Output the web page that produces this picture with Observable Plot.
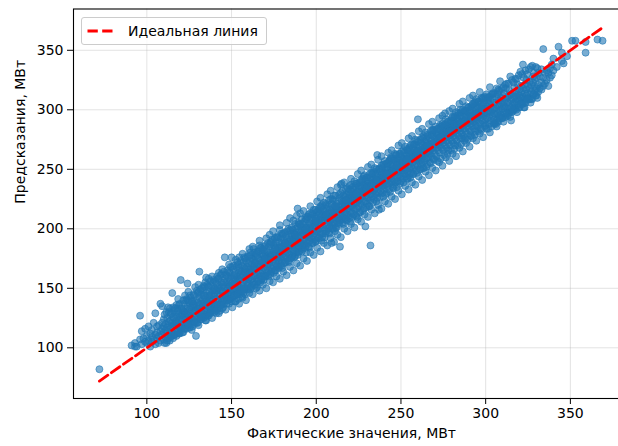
<!DOCTYPE html>
<html><head><meta charset="utf-8">
<script src="https://cdn.jsdelivr.net/npm/d3@7"></script>
<script src="https://cdn.jsdelivr.net/npm/@observablehq/plot@0.6"></script>
<style>
html,body{margin:0;padding:0;overflow:hidden;background:#fff;}
#wrap{position:relative;width:618px;height:446px;overflow:hidden;font-family:"DejaVu Sans",sans-serif;color:#000;}
#wrap svg{display:block;max-width:none !important;}
#legend{position:absolute;left:80.5px;top:16.5px;width:186px;height:28px;box-sizing:border-box;border:1px solid #cccccc;border-radius:3px;background:rgba(255,255,255,0.8);}
#legend svg{position:absolute;left:5px;top:0;}
#legend span{position:absolute;left:46.5px;top:0;line-height:26px;font-size:14px;white-space:nowrap;}
</style></head><body><div id="wrap"></div>
<script>
const xTicks = [100, 150, 200, 250, 300, 350];
const yTicks = [100, 150, 200, 250, 300, 350];
const xLabel = "Фактические значения, МВт";
const yLabel = "Предсказания, МВт";
const legendLabel = "Идеальная линия";
// each row: actual value, then the predicted values observed for it (core of the cloud)
const observations = [
[72,82],[91,102],[93,101,104],[94,101],[96,127,107],[97,114,103],[98,108],[99,116,105],
[100,104,110],[101,106,118],[102,101,112],[103,109,115,105],[104,107,121],[105,129,111,103],
[106,113,108,118],[107,104,119,110],[108,137,114,106],[109,135,111,121,116],[110,107,118,113,124],
[111,120,109,115],[112,125,113,117,106],[113,130,119,110,122],[114,116,123,109,128],[115,146,121,113,118],
[116,111,125,119,131],[117,122,114,128,120],[118,126,115,133,121],[119,123,112,129,118,136],
[120,157,127,116,124],[121,118,131,124,113,128],[122,130,121,137,116],[123,126,119,133,129,140],
[124,154,128,120,135,124],[125,132,117,127,138,123],[126,121,134,129,142,125],[127,135,124,130,118,139],
[128,131,144,126,122,136],[129,110,134,127,140,131],[130,138,125,133,146,121],
[131,164,136,128,142,133],[132,127,139,145,131,124],[133,141,135,129,148,137],[134,138,126,144,133,151],
[135,159,140,123,136,146,131],[136,143,130,138,152,127],[137,134,147,140,129,144],[138,145,136,152,141,131],
[139,140,148,133,155,137],[140,137,146,130,143,150,134],[141,129,148,141,154,136],[142,150,139,145,133,158],
[143,144,137,152,148,131],[144,155,141,148,136,151,162],[145,147,139,153,143,134],[146,176,151,144,158,140],
[147,142,155,148,137,161],[148,153,146,159,140,150,143],[149,148,141,156,163,152],[150,154,145,160,149,139,176],
[151,158,147,153,166,143],[152,144,157,150,162,139,154],[153,160,149,155,145,168],[154,151,163,147,158,141,170],
[155,157,150,165,161,145],[156,164,153,147,169,159,143],[157,151,161,172,155,146],[158,166,158,150,163,175,145],
[159,155,168,160,149,164],[160,171,162,154,167,150,158],
[161,166,157,173,149,163,180],[162,158,170,164,152,175],[163,168,160,155,174,166,183],[164,161,172,167,153,177],
[165,170,162,178,158,168,151],[166,175,164,170,156,181],[167,160,173,168,184,163,155],[168,172,165,179,158,174],
[169,177,168,161,182,172,157],[170,166,179,173,186,160,175],[171,181,170,163,176,168],[172,174,165,185,178,160,171],
[173,168,180,175,162,189,177],[174,183,172,166,178,191],[175,177,169,186,181,163,174],[176,171,184,179,165,188],
[177,186,175,169,182,178,193],[178,173,189,181,167,184,176],[179,184,176,192,170,180],[180,188,179,173,185,195,167],
[181,176,190,183,171,186],[182,185,178,194,188,172,181],[183,191,180,175,187,198],[184,178,193,186,172,189,183],
[185,196,187,181,191,175],[186,183,199,190,177,186,194],[187,191,182,196,176,188],[188,186,200,193,180,191,197],
[189,217,194,183,188,202,178],[190,192,185,198,189,181,204],[191,197,188,184,202,194],[192,190,204,196,183,199,186],
[193,199,191,206,187,195],[194,186,201,197,208,190,180],[195,203,194,188,199,210],[196,197,205,190,201,184,193],
[197,209,199,192,204,196],[198,194,207,201,188,212,198],[199,203,196,210,191,205],[200,206,198,214,201,190,209],
[201,199,211,204,193,215],[202,208,200,195,213,205],[203,196,210,203,218,190,207],[204,212,201,208,196,216],
[205,207,199,214,210,193],[206,203,217,209,198,212,220],[207,213,205,200,219,209],[208,210,202,216,196,213,206],
[209,188,215,208,221,203],[210,212,205,218,200,214,224],[211,219,210,204,215,198],[212,207,221,214,201,217,211],
[213,216,209,223,205,219],[214,185,218,211,226,207,214],[215,238,220,213,208,224,216],[216,210,223,217,204,228],
[217,221,214,227,209,219,224],[218,216,229,222,207,212],[219,225,217,211,231,221,226],[220,219,228,214,223,206,233],
[221,226,219,231,213,224],[222,218,233,226,212,229,221],[223,229,222,236,216,226],[224,225,217,231,238,222,210],
[225,232,224,219,235,228],[226,221,236,229,214,231,225],[227,234,227,240,220,230],[228,229,223,237,232,244,217],
[229,202,235,228,241,223,232],[230,233,226,238,221,236,243],[231,240,232,226,236,219],[232,186,236,229,243,233,224],
[233,238,231,246,227,241],[234,232,242,236,225,239,248],[235,241,234,229,245,237],[236,262,238,231,247,241,226],
[237,216,243,236,240,230,250],[238,245,238,232,248,241],[239,236,251,243,230,246,240],[240,247,239,233,244,254,236],
[241,243,250,237,246,229],[242,249,241,255,236,245,252],[243,238,247,242,257,233],[244,251,244,239,254,247,260],
[245,246,240,252,235,249],[246,253,247,258,241,250,237],[247,244,256,249,239,262],[248,255,248,243,259,251,240],
[249,250,258,245,254,263],[250,256,249,244,261,252,240],
[251,247,259,253,242,256],[252,258,251,264,246,255,249],[253,250,262,256,244,259],[254,261,253,248,266,257,242],
[255,256,263,251,259,245,268],[256,252,265,258,247,261],[257,264,256,250,268,260,246],[258,259,253,266,262,271],
[259,262,255,270,249,264,258],[260,292,266,259,253,262,273],[261,257,269,263,250,266,260],[262,265,258,272,261,254],
[263,270,262,256,267,276,251],[264,261,273,266,257,269],[265,267,259,275,263,252,270],[266,272,265,260,278,268],
[267,263,276,269,256,271,265],[268,274,267,261,279,271],[269,266,278,272,259,269,283],[270,276,269,263,281,273],
[271,268,280,274,261,277,271],[272,279,271,266,284,275],[273,270,283,277,264,273,287],[274,281,274,268,286,277],
[275,272,285,279,266,282,275],[276,297,283,276,270,288,279],[277,274,287,281,268,284],[278,285,278,272,290,281,266],
[279,276,289,283,270,286,279],[280,287,280,274,293,283],[281,278,291,285,272,288,281],[282,289,282,276,295,285,270],
[283,280,293,287,274,283],[284,291,284,278,297,288],[285,282,295,289,276,285,300],[286,293,286,280,290,276],
[287,284,297,291,278,288],[288,295,288,282,299,291,276],[289,286,299,293,280,289],[290,297,290,284,302,293],
[291,288,300,294,282,291,278],[292,298,291,286,304,295],[293,290,302,296,284,293],[294,300,293,287,306,297,282],
[295,292,303,297,286,294],[296,301,295,289,307,298],[297,294,305,299,288,296,284],[298,303,297,291,309,300],
[299,295,306,300,289,297],[300,304,298,292,310,301,287],
[301,297,308,293,303],[302,305,294,299,311,288],[303,298,307,291,302],[304,309,300,295,313],[305,301,292,306,297,288],
[306,288,311,302,296],[307,304,297,313,291],[308,299,308,294,303,316],[309,305,296,310,300],[310,301,312,293,306],
[311,307,298,303,314],[312,296,309,302,318],[313,310,301,306,295],[314,303,312,298,316],[315,291,308,302,313],
[316,305,314,299,309],[317,311,302,319,306],[318,307,315,300,311],[319,313,304,309,321],[320,308,317,302,312],
[321,315,306,320,310],[322,338,311,305,318],[323,302,314,321,309],[324,317,308,325,312],[325,310,320,314],
[326,318,309,324],[327,309,321,315],[328,323,313,328],[329,316,326,320],[330,327,318,312],[331,321,331,315],
[332,318,328],[333,334,323,317],[334,351,327,320],[335,322,331],[336,333,325],[337,331,320],[338,335,327],
[339,329,338],[340,333,343],[342,336],[343,353],[345,341,348],[346,339],[348,345],[351,358],[353,358],
[359,357,348],[366,359],[369,358]
];
// observations between the core and the edges of the cloud
const midObservations = [
[111.5,130,104],[113.5,133,106],[115.5,134,108,126],[117.5,136,110],[119.5,137,112],[121.5,140,113,131],
[123.5,141,116],[125.5,144,117],[127.5,145,120,137],[129.5,148,121],[131.5,149,124],[133.5,152,125,144],
[135.5,153,128],[137.5,156,129],[139.5,157,132,149],[141.5,160,133],[143.5,161,136],[145.5,164,137,155],
[147.5,165,140],[149.5,168,141],[151.5,169,144,161],[153.5,172,145],[155.5,173,148],[157.5,176,149,167],
[159.5,177,152],[161.5,178,151],[163.5,180,153,171],[165.5,181,156],[167.5,184,157],[169.5,185,160,176],
[171.5,188,161],[173.5,189,164],[175.5,192,165,183],[177.5,193,168],[179.5,196,169],[181.5,197,172,188],
[183.5,200,173],[185.5,201,176],[187.5,204,177,195],[189.5,205,180],[191.5,208,181],[193.5,209,184,200],
[195.5,212,185],[197.5,213,188],[199.5,216,189,207],[201.5,217,192],[203.5,220,193],[205.5,221,196,212],
[207.5,224,197],[209.5,225,200],[211.5,228,201,219],[213.5,229,204],[215.5,232,205],[217.5,233,208,224],
[219.5,236,209],[221.5,235,210],[223.5,238,211,229],[225.5,239,214],[227.5,242,215],[229.5,243,218,234],
[231.5,246,219],[233.5,247,222],[235.5,250,223,241],[237.5,251,226],[239.5,254,227],[241.5,255,230,246],
[243.5,258,231],[245.5,259,234],[247.5,262,235,253],[249.5,263,238],[251.5,266,239],[253.5,267,242,258],
[255.5,270,243],[257.5,271,246],[259.5,274,247,265],[261.5,275,250],[263.5,278,251],[265.5,279,254,270],
[267.5,282,255],[269.5,283,258],[271.5,284,257],[273.5,286,259,277],[275.5,287,262],[277.5,290,263],
[279.5,291,266,282],[281.5,294,267],[283.5,295,270],[285.5,298,271,289],[287.5,299,274],[289.5,302,275],
[291.5,303,278,294],[293.5,306,279],[295.5,307,282],[297.5,310,283,301],[299.5,311,286],[301.5,310,284],
[303.5,313,286],[305.5,314,289],[307.5,317,290],[309.5,318,293],[311.5,321,294],[313.5,322,297],
[315.5,325,298],[317.5,326,301],[319.5,329,302],[321.5,330,305],[323.5,333,306],[325.5,334,309],
[327.5,309,337],[329.5,336,312]
];
// observations lying along the upper and lower edges of the cloud
const edgeObservations = [
[110.5,128,104],[112.5,134,108],[114.5,129,110],[116.5,133,111],[118.5,141,113,131],[120.5,133,117],
[122.5,144,116],[124.5,140,119,147],[126.5,139,115],[128.5,151,121],[130.5,147,119,153],[132.5,150,126],
[134.5,155,123],[136.5,151,127,158],[138.5,160,125],[140.5,156,131],[142.5,163,129,158],[144.5,166,133],
[146.5,161,132],[148.5,170,137,164],[150.5,168,134],[152.5,174,139],[154.5,167,137,176],[156.5,179,142],
[158.5,173,140],[160.5,177,146,183],[162.5,185,145],[164.5,179,150],[166.5,186,148,190],[168.5,183,153],
[170.5,192,150],[172.5,187,156,195],[174.5,198,155],[176.5,193,160],[178.5,199,158,203],[180.5,196,164],
[182.5,205,161],[184.5,199,168,209],[186.5,207,165],[188.5,211,171],[190.5,204,169,213],[192.5,215,175],
[194.5,210,173],[196.5,219,180,213],[198.5,216,178],[200.5,223,184],[202.5,219,181,226],[204.5,222,188],
[206.5,229,186],[208.5,225,192,232],[210.5,228,189],[212.5,235,195],[214.5,230,193,237],[216.5,239,200],
[218.5,234,198],[220.5,242,204,237],[222.5,240,201],[224.5,246,208],[226.5,241,206,249],[228.5,245,212],
[230.5,252,210],[232.5,247,216,254],[234.5,251,213],[236.5,258,220],[238.5,253,217,261],[240.5,257,223],
[242.5,264,221],[244.5,259,227,266],[246.5,263,225],[248.5,270,232],[250.5,265,229,272],[252.5,269,236],
[254.5,276,233],[256.5,271,239,278],[258.5,275,237],[260.5,282,244],[262.5,277,241,284],[264.5,281,248],
[266.5,288,245],[268.5,283,251,290],[270.5,286,249],[272.5,293,256],[274.5,288,253,295],[276.5,292,260],
[278.5,299,257],[280.5,294,263,301],[282.5,298,261],[284.5,305,268],[286.5,300,265,307],[288.5,303,272],
[290.5,310,269],[292.5,305,276,312],[294.5,309,274],[296.5,315,280],[298.5,310,277],[300.5,313,284],
[302.5,319,281],[304.5,314,289],[306.5,318,286],[308.5,324,293],[310.5,319,290],[312.5,322,297],
[314.5,328,294],[316.5,323,300],[318.5,326,298],[320.5,332,305],[322.5,327,302],[324.5,330,309],
[326.5,336,306],[328.5,331,313],[330.5,335,310]
];

const toPoints = rows => rows.flatMap(([a, ...ps]) => ps.map(p => ({actual: a, predicted: p})));
const points = [...toPoints(observations), ...toPoints(midObservations), ...toPoints(edgeObservations)];
const [lo, hi] = d3.extent(points, d => d.actual);
const ideal = [{v: lo}, {v: hi}];

const chart = Plot.plot({
  width: 630,
  height: 446,
  marginLeft: 73,
  marginRight: 1,
  marginTop: 8.5,
  marginBottom: 48,
  style: {fontFamily: "DejaVu Sans, sans-serif", fontSize: "14px", color: "#000", background: "#fff", overflow: "visible", maxWidth: "none"},
  x: {domain: [56.7, 384.9]},
  y: {domain: [57.4, 384.7]},
  marks: [
    Plot.gridX(xTicks, {stroke: "#b0b0b0", strokeOpacity: 0.35, strokeWidth: 1}),
    Plot.gridY(yTicks, {stroke: "#b0b0b0", strokeOpacity: 0.35, strokeWidth: 1}),
    Plot.dot(points, {x: "actual", y: "predicted", r: 3.5, fill: "#1f77b4", fillOpacity: 0.6, stroke: "#1f77b4", strokeOpacity: 0.6, strokeWidth: 1}),
    Plot.line(ideal, {x: "v", y: "v", stroke: "#ff0000", strokeWidth: 2.8, strokeDasharray: "10.3,4.4"}),
    Plot.frame({stroke: "#000", strokeWidth: 1.1}),
    Plot.axisX(xTicks, {tickSize: 6, tickPadding: 4, label: null, fontSize: 14}),
    Plot.axisY(yTicks, {tickSize: 6, tickPadding: 4, label: null, fontSize: 14}),
    Plot.text([xLabel], {text: d => d, frameAnchor: "bottom", dy: 39, fontSize: 14}),
    Plot.text([yLabel], {text: d => d, frameAnchor: "left", dx: -53, rotate: -90, fontSize: 14})
  ]
});

const wrap = document.getElementById("wrap");
wrap.appendChild(chart);
const legend = document.createElement("div");
legend.id = "legend";
legend.innerHTML = `<svg width="30" height="26"><line x1="0.5" x2="27" y1="13" y2="13" stroke="#ff0000" stroke-width="2.8" stroke-dasharray="10.3,4.4"/></svg><span></span>`;
legend.querySelector("span").textContent = legendLabel;
wrap.appendChild(legend);
</script>
</body></html>
